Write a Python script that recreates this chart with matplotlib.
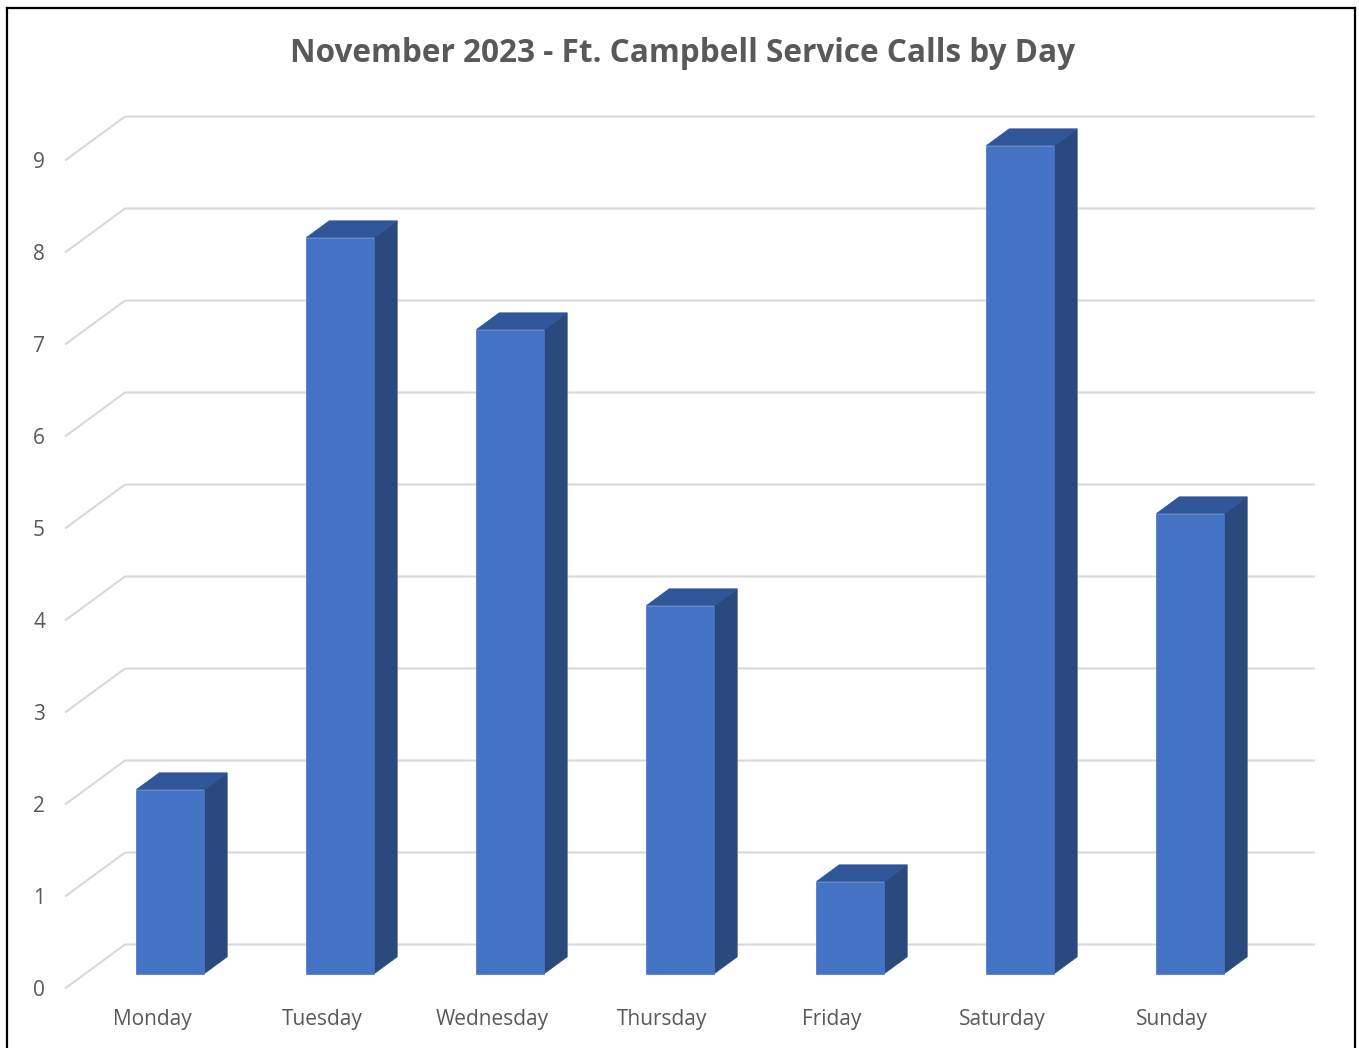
import matplotlib
matplotlib.use("Agg")
from matplotlib import pyplot as plt
from matplotlib.patches import Polygon
from matplotlib.lines import Line2D

# data
days = ["Monday", "Tuesday", "Wednesday", "Thursday", "Friday", "Saturday", "Sunday"]
calls = [2, 8, 7, 4, 1, 9, 5]
y_ticks = list(range(0, 10))
title = "November 2023 - Ft. Campbell Service Calls by Day"

# colours
front_col = "#4472C4"
top_col = "#30569A"
side_col = "#2A4A7E"
grid_col = "#D9D9D9"
text_col = "#595959"

W, H = 1359, 1048
fig = plt.figure(figsize=(W / 100, H / 100), dpi=100)
plt.rcParams["font.family"] = ["Open Sans", "DejaVu Sans"]

# one axes over the whole figure; x = category, y = value (front plane)
x0_px, cat_px = 150.0, 170.0
y0_px, val_px = 988.5, 92.0
ax = fig.add_axes([0, 0, 1, 1])
ax.set_xlim(-x0_px / cat_px, (W - x0_px) / cat_px)
ax.set_ylim((y0_px - H) / val_px, y0_px / val_px)
ax.axis("off")

# depth offsets (full depth of the floor) in data units
dep_x = 60.0 / cat_px
dep_y = 44.0 / val_px


def proj(x, v, z):
    return (x + z * dep_x, v + z * dep_y)


n = len(days)
left, right = -0.5, n - 0.5

# back wall gridlines and side wall diagonals
for t in y_ticks:
    xs, ys = zip(proj(left, t, 0), proj(left, t, 1), proj(right, t, 1))
    ax.add_line(Line2D(xs, ys, color=grid_col, lw=1.5, zorder=1,
                       solid_capstyle="butt"))
    tx, ty = proj(left, t, 0)
    ax.text(tx - 20 / cat_px, ty - 1.5 / val_px, str(t), ha="right",
            va="center", fontsize=15, color=text_col)

# bars
half_w = 0.2
zf, zb = 0.34, 0.72
for i, v in enumerate(calls):
    xl, xr = i - half_w, i + half_w
    front = [proj(xl, 0, zf), proj(xr, 0, zf), proj(xr, v, zf), proj(xl, v, zf)]
    side = [proj(xr, 0, zf), proj(xr, 0, zb), proj(xr, v, zb), proj(xr, v, zf)]
    top = [proj(xl, v, zf), proj(xr, v, zf), proj(xr, v, zb), proj(xl, v, zb)]
    for pts, col in ((side, side_col), (top, top_col), (front, front_col)):
        ax.add_patch(Polygon(pts, closed=True, facecolor=col, edgecolor=col,
                             lw=0.5, zorder=3))

# category labels
for i, d in enumerate(days):
    ax.text(i + 2 / cat_px, (y0_px - 1020) / val_px, d, ha="center",
            va="center", fontsize=15, color=text_col)

# title
fig.text(682 / W, 1 - 53 / H, title, ha="center", va="center",
         fontsize=22.7, fontweight="bold", color=text_col)

# chart border
for xs, ys in (([7, 7], [H, 8]), ([7, 1355], [8, 8]), ([1355, 1355], [8, H])):
    fig.add_artist(Line2D([x / W for x in xs], [1 - y / H for y in ys],
                          color="black", lw=1.6, transform=fig.transFigure))

fig.savefig("out.png", dpi=100)
